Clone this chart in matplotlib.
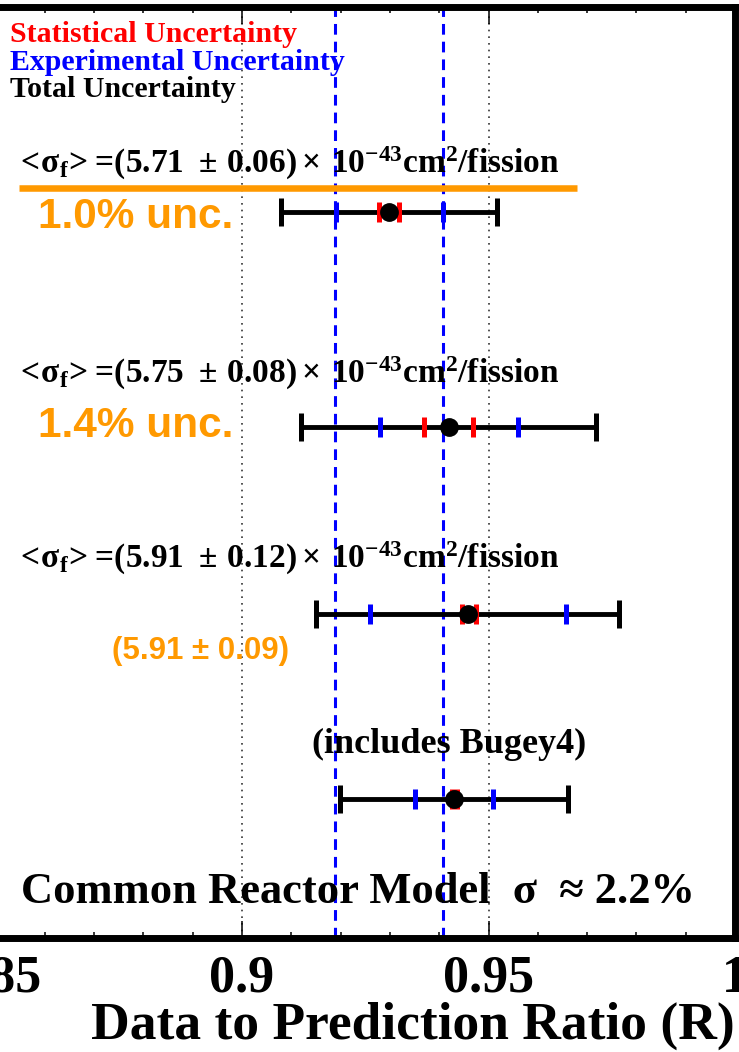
import matplotlib
matplotlib.use("Agg")
import matplotlib.pyplot as plt

plt.rcParams['mathtext.fontset'] = 'custom'
plt.rcParams['mathtext.rm'] = 'Liberation Serif:bold'
plt.rcParams['mathtext.it'] = 'Liberation Serif:bold'
plt.rcParams['mathtext.bf'] = 'Liberation Serif:bold'

# Data to prediction ratio per measurement group
centers = [0.9299, 0.9419, 0.9459, 0.9431]
tot_lo = [0.9080, 0.9120, 0.9150, 0.9199]
tot_hi = [0.9518, 0.9718, 0.9765, 0.9661]
exp_lo = [0.9191, 0.9280, 0.9259, 0.9350]
exp_hi = [0.9407, 0.9559, 0.9658, 0.9509]
stat_lo = [0.9278, 0.9370, 0.9446, 0.9426]
stat_hi = [0.9319, 0.9469, 0.9475, 0.9436]

# cross sections <sigma_f> (1e-43 cm^2/fission)
sigma_vals = [5.71, 5.75, 5.91]
sigma_errs = [0.06, 0.08, 0.12]
unc_labels = ["1.0% unc.", "1.4% unc."]
alt_label = "(5.91 ± 0.09)"

# model reference lines
model_lines = [0.9189, 0.9408]

tick_vals = [0.85, 0.9, 0.95, 1.0]
tick_labels = ["0.85", "0.9", "0.95", "1"]

# layout (y in pixel-like units, top down)
row_y = [212, 427, 614, 799]
text_y = [173, 383, 568]
unc_y = [228, 437]

orange = "#FF9900"
serif = "Liberation Serif"

fig = plt.figure(figsize=(7.39, 10.52), dpi=100)
ax = fig.add_axes([-4.5 / 739, (1052 - 938) / 1052, 739.5 / 739, 931.5 / 1052])
ax.set_xlim(0.85, 1.0)
ax.set_ylim(938, 6.5)

for s in ax.spines.values():
    s.set_linewidth(5)
    s.set_clip_on(False)

# grid and model lines
for g in [0.9, 0.95]:
    ax.axvline(g, color="#333333", lw=1.2, ls=(0, (1, 3)), zorder=1)
for m in model_lines:
    ax.axvline(m, color="blue", lw=2.2, ls=(0, (3.5, 2.3)), zorder=1)

for i in range(len(centers)):
    y = row_y[i]
    c = centers[i]
    ax.errorbar(c, y, xerr=[[c - tot_lo[i]], [tot_hi[i] - c]], fmt="none",
                ecolor="black", elinewidth=3.5, capsize=10, capthick=3.6, zorder=3)
    ax.plot([exp_lo[i], exp_hi[i]], [y, y], ls="none", marker="|", ms=14,
            mew=3.6, color="blue", zorder=4)
    ax.plot([stat_lo[i], stat_hi[i]], [y, y], ls="none", marker="|", ms=14,
            mew=3.6, color="red", zorder=5)
    ax.plot(c, y, "o", color="black", ms=12.5, zorder=6)

# legend text
ax.text(0.8529, 42, "Statistical Uncertainty", color="red", fontsize=21.5,
        family=serif, weight="bold", va="baseline")
ax.text(0.8529, 70, "Experimental Uncertainty", color="blue", fontsize=21.5,
        family=serif, weight="bold", va="baseline")
ax.text(0.8529, 97, "Total Uncertainty", color="black", fontsize=21.5,
        family=serif, weight="bold", va="baseline")

for i in range(len(sigma_vals)):
    lbl = (r"$\!<\!\sigma_{\rm f}\!>\!=\!(%.2f\ \pm\,%.2f)\times\,10^{-43}\mathrm{cm}^{2}/\mathrm{fission}$"
           % (sigma_vals[i], sigma_errs[i]))
    ax.text(0.8550, text_y[i], lbl, fontsize=24, va="baseline")

for i in range(len(unc_labels)):
    ax.text(0.8586, unc_y[i], unc_labels[i], color=orange, fontsize=30.5,
            family="Liberation Sans", weight="bold", va="baseline")

ax.plot([0.8548, 0.9680], [188, 188], color=orange, lw=4.7, solid_capstyle="butt", zorder=2)

ax.text(0.8736, 659, alt_label, color=orange, fontsize=22.5,
        family="Liberation Sans", weight="bold", va="baseline")
ax.text(0.9142, 753, "(includes Bugey4)", fontsize=26, family=serif,
        weight="bold", va="baseline")
ax.text(0.8552, 903, "Common Reactor Model  σ  ≈ 2.2%", fontsize=32,
        family=serif, weight="bold", va="baseline")

# axis ticks
ax.set_xticks(tick_vals)
ax.set_xticklabels(tick_labels, fontsize=37.5, family=serif, weight="bold")
ax.set_xticks([0.86, 0.87, 0.88, 0.89, 0.91, 0.92, 0.93, 0.94, 0.96, 0.97, 0.98, 0.99], minor=True)
ax.tick_params(axis="x", which="major", direction="in", length=12, width=1.1,
               top=True, pad=12)
ax.tick_params(axis="x", which="minor", direction="in", length=4.5, width=1.1, top=True)
ax.set_yticks([])

ax.set_xlabel("Data to Prediction Ratio (R)", fontsize=38.5, family=serif,
              weight="bold", loc="right")
ax.xaxis.set_label_coords(1.0, -0.068)

fig.savefig("out.png", dpi=100)
